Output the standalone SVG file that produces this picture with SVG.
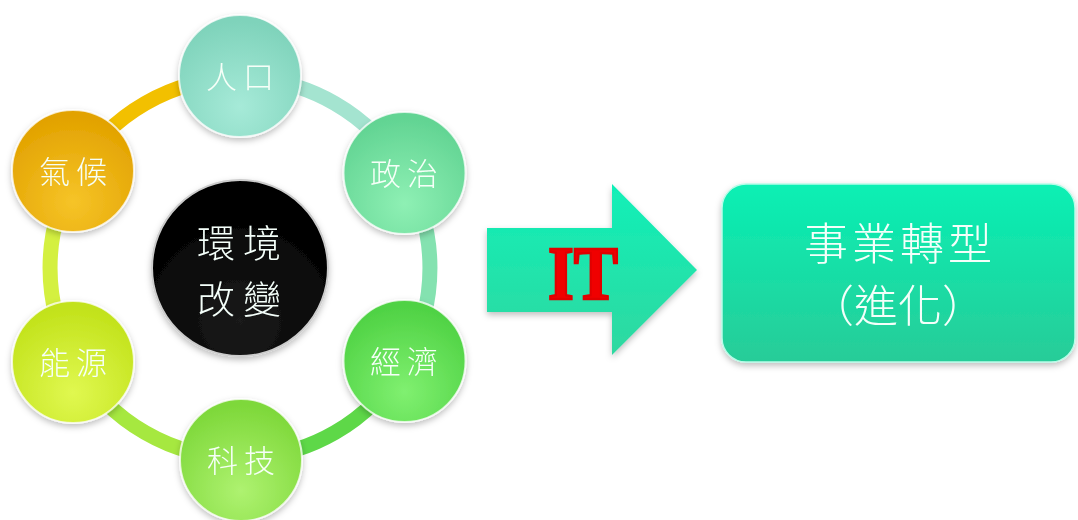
<svg xmlns="http://www.w3.org/2000/svg" width="1078" height="520" viewBox="0 0 1078 520">
<style>
.ring{fill:none;stroke-width:15;stroke-linecap:round}
.ball{stroke:#ffffff;stroke-opacity:0.75;stroke-width:2}
.lbl{font-family:"Noto Sans CJK TC","Noto Sans CJK SC",sans-serif;font-weight:300;font-size:31px;fill:#f6fff8;text-anchor:middle;letter-spacing:6px}
.big{font-family:"Noto Sans CJK TC","Noto Sans CJK SC",sans-serif;font-weight:300;fill:#f4fffa;text-anchor:middle}
</style>
<defs>
<filter id="sh" x="-20%" y="-20%" width="140%" height="140%">
<feDropShadow dx="0" dy="3" stdDeviation="3" flood-color="#000" flood-opacity="0.25"/>
</filter>
<radialGradient id="gMint" cx="0.5" cy="0.75" r="0.7"><stop offset="0" stop-color="#a6ead8"/><stop offset="1" stop-color="#7fd3bb"/></radialGradient>
<radialGradient id="gPol" cx="0.5" cy="0.75" r="0.7"><stop offset="0" stop-color="#8ef0b4"/><stop offset="1" stop-color="#62d493"/></radialGradient>
<radialGradient id="gEco" cx="0.5" cy="0.75" r="0.7"><stop offset="0" stop-color="#80f070"/><stop offset="1" stop-color="#4fd244"/></radialGradient>
<radialGradient id="gTec" cx="0.5" cy="0.75" r="0.7"><stop offset="0" stop-color="#aef270"/><stop offset="1" stop-color="#7ed83a"/></radialGradient>
<radialGradient id="gEne" cx="0.5" cy="0.75" r="0.7"><stop offset="0" stop-color="#e0f850"/><stop offset="1" stop-color="#c2e21a"/></radialGradient>
<radialGradient id="gCli" cx="0.5" cy="0.75" r="0.7"><stop offset="0" stop-color="#f6c428"/><stop offset="1" stop-color="#e2a200"/></radialGradient>
<radialGradient id="gBlk" cx="0.5" cy="0.8" r="0.7"><stop offset="0" stop-color="#1a1a1a"/><stop offset="1" stop-color="#000000"/></radialGradient>
<linearGradient id="gArrow" x1="0" y1="0" x2="0" y2="1"><stop offset="0" stop-color="#10f0b8"/><stop offset="1" stop-color="#30d8a0"/></linearGradient>
<linearGradient id="gBox" x1="0" y1="0" x2="0" y2="1"><stop offset="0" stop-color="#08f0b4"/><stop offset="1" stop-color="#28cc98"/></linearGradient>
</defs>
<rect width="1078" height="520" fill="#ffffff"/>
<g id="connectors">
<path class="ring" stroke="#f2c000" d="M75.5 173 A190 190 0 0 1 240 78"/>
<path class="ring" stroke="#a4e4d0" d="M240 78 A190 190 0 0 1 404.5 173"/>
<path class="ring" stroke="#84e2b0" d="M404.5 173 A190 190 0 0 1 404.5 363"/>
<path class="ring" stroke="#5ed848" d="M404.5 363 A190 190 0 0 1 240 458"/>
<path class="ring" stroke="#a6e840" d="M240 458 A190 190 0 0 1 75.5 363"/>
<path class="ring" stroke="#d4f040" d="M75.5 363 A190 190 0 0 1 75.5 173"/>
</g>
<g id="node-center" filter="url(#sh)">
<circle cx="240" cy="268" r="88" fill="url(#gBlk)" stroke="#cccccc" stroke-width="2"/>
<text class="big" x="243" y="257" font-size="38" letter-spacing="8">環境</text>
<text class="big" x="243" y="313" font-size="38" letter-spacing="8">改變</text>
</g>
<g id="node-population" filter="url(#sh)">
<circle class="ball" cx="240" cy="76" r="61" fill="url(#gMint)"/>
<text class="lbl" x="243" y="88">人口</text>
</g>
<g id="node-politics" filter="url(#sh)">
<circle class="ball" cx="404.5" cy="173" r="61" fill="url(#gPol)"/>
<text class="lbl" x="407" y="185">政治</text>
</g>
<g id="node-economy" filter="url(#sh)">
<circle class="ball" cx="404.5" cy="361" r="61" fill="url(#gEco)"/>
<text class="lbl" x="407" y="373">經濟</text>
</g>
<g id="node-technology" filter="url(#sh)">
<circle class="ball" cx="241" cy="460" r="61" fill="url(#gTec)"/>
<text class="lbl" x="244" y="472">科技</text>
</g>
<g id="node-energy" filter="url(#sh)">
<circle class="ball" cx="73" cy="362" r="61" fill="url(#gEne)"/>
<text class="lbl" x="76" y="374">能源</text>
</g>
<g id="node-climate" filter="url(#sh)">
<circle class="ball" cx="73" cy="171" r="61" fill="url(#gCli)"/>
<text class="lbl" x="76" y="183">氣候</text>
</g>
<g id="node-arrow" filter="url(#sh)">
<path d="M487 228 H612 V184 L697 270 L612 355 V312 H487 Z" fill="url(#gArrow)"/>
<text x="583" y="299" font-family="Liberation Serif, serif" font-weight="bold" font-size="76" fill="#f00000" stroke="#e00000" stroke-width="2.5" text-anchor="middle" textLength="70" lengthAdjust="spacingAndGlyphs">IT</text>
</g>
<g id="node-transform" filter="url(#sh)">
<rect x="722" y="184" width="353" height="178" rx="24" fill="url(#gBox)" stroke="#b8fce8" stroke-width="1.5"/>
<text class="big" x="900" y="260" font-size="44" letter-spacing="4">事業轉型</text>
<text class="big" x="898" y="322" font-size="44" letter-spacing="0">（進化）</text>
</g>
</svg>
